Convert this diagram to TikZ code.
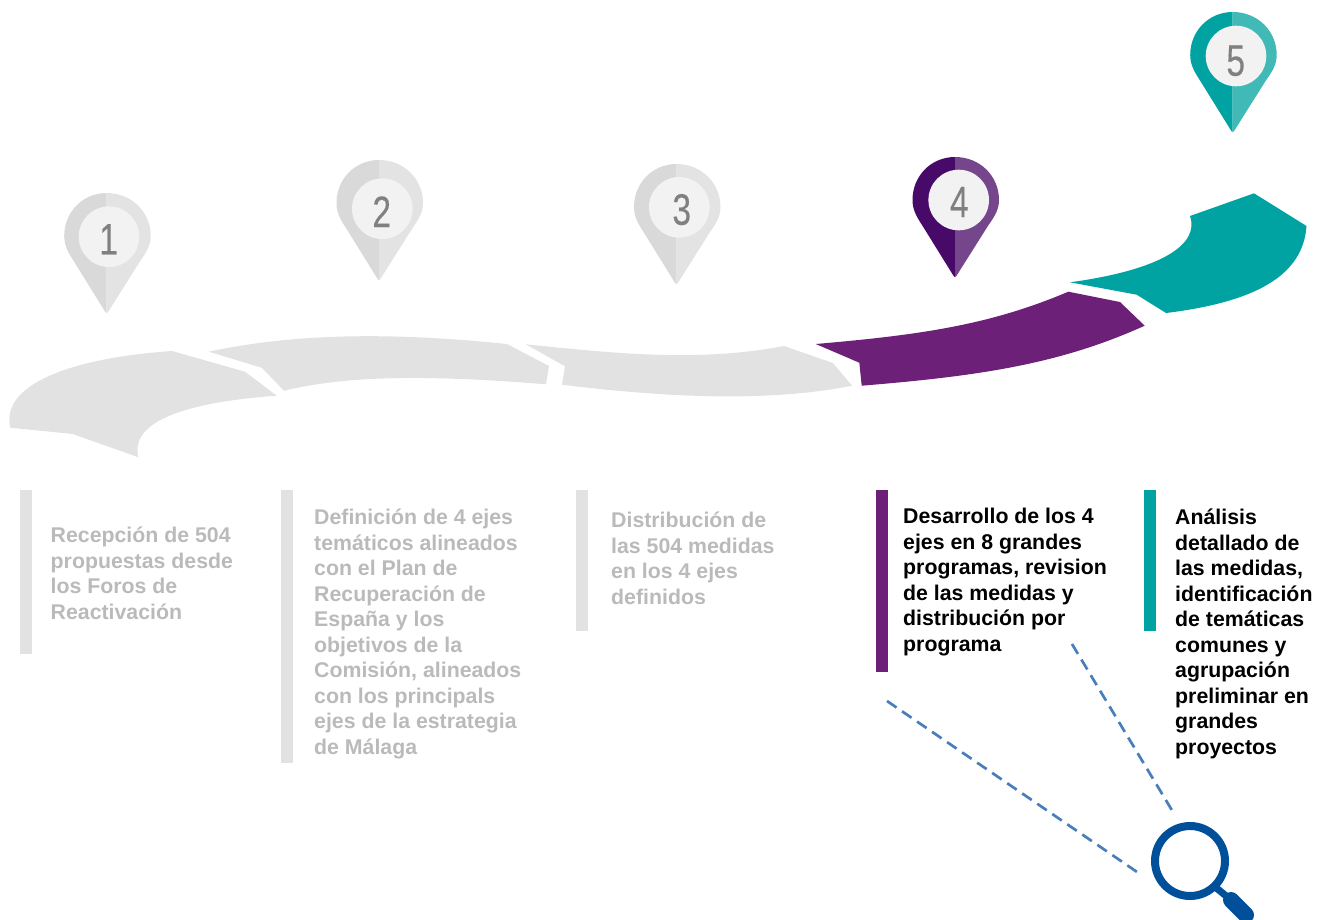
\documentclass[tikz,border=0pt]{standalone}
\usepackage{fontspec}
\setmainfont{Liberation Sans}
\newfontfamily\digfont[FakeBold=0.35]{Liberation Sans}
\definecolor{ribgrey}{HTML}{E2E2E2}
\definecolor{pingreyA}{HTML}{D9D9D9}
\definecolor{pingreyB}{HTML}{E3E3E3}
\definecolor{purpA}{HTML}{470A68}
\definecolor{purpB}{HTML}{75468C}
\definecolor{purpR}{HTML}{6D2077}
\definecolor{tealA}{HTML}{00A3A1}
\definecolor{tealB}{HTML}{40B9B7}
\definecolor{inner}{HTML}{F2F2F2}
\definecolor{digit}{HTML}{808080}
\definecolor{greytxt}{HTML}{BABABA}
\definecolor{dashblue}{HTML}{4A7EBB}
\definecolor{lensblue}{HTML}{004F9B}
\tikzset{
  lbl/.style={anchor=north west,inner sep=0pt,align=left,font=\fontsize{21.3}{25.5}\selectfont\bfseries},
  digitlbl/.style={inner sep=0pt,text=digit,xscale=.76,font=\fontsize{44}{44}\digfont},
  zoomline/.style={dashblue,line width=2.7pt,dash pattern=on 11.5pt off 6.7pt},
}
% name, split x, tip y, dark, light, digit, inner centre, digit centre
\newcommand{\pinmark}[8]{%
  \begin{scope}[shift={(#2,#3)}]
    \fill[#4] (0,0) .. controls (-.8,0) and (-1.4,-1) .. (-2,-2) -- (-33,-52) .. controls (-39,-61) and (-42.5,-68) .. (-42.5,-77)
      .. controls (-42.5,-101) and (-24,-120) .. (0,-120) -- cycle;
    \fill[#5] (0,0) .. controls (.8,0) and (1.4,-1) .. (2,-2) -- (33.5,-52) .. controls (40,-61) and (44,-68) .. (44,-77)
      .. controls (44,-101) and (25,-120) .. (0,-120) -- cycle;
  \end{scope}
  \fill[inner] (#7) circle (30.3);
  \node[digitlbl] (#1) at (#8) {#6};}
\begin{document}
\begin{tikzpicture}[x=1pt,y=-1pt]
\useasboundingbox (0,0) rectangle (1324,919);
% ribbon
\fill[ribgrey] (10.3,427.7) -- (72.7,434) -- (138.5,457.3)
  .. controls (130,425) and (175,403) .. (276.7,395.7)
  -- (245,371.7) -- (172,351)
  .. controls (70,358) and (0,385) .. (10.3,427.7) -- cycle;
\fill[ribgrey] (208.7,351.7) .. controls (300,332) and (400,333) .. (507,344)
  -- (549,366) -- (546,384.3)
  .. controls (430,375) and (350,375) .. (284,390.7)
  -- (261.7,367.7) -- cycle;
\fill[ribgrey] (526,344.3) -- (565,366.3) -- (562,384.7)
  .. controls (670,398) and (770,402) .. (852,385.7)
  -- (833,363) -- (784,346)
  .. controls (700,362) and (620,354) .. (526,344.3) -- cycle;
\fill[purpR] (815.7,344) -- (859.3,362.7) -- (861.7,385.7)
  .. controls (980,376) and (1060,364) .. (1144.7,325.7)
  -- (1120,302) -- (1068.3,291.7)
  .. controls (990,325) and (920,335) .. (815.7,344) -- cycle;
\fill[tealA] (1070,282.3) -- (1136.7,294.7) -- (1166,313)
  .. controls (1255,302) and (1303,276) .. (1306.5,226)
  -- (1254,193.3) -- (1190,216)
  .. controls (1200,245) and (1160,270) .. (1070,282.3) -- cycle;
% pins
\pinmark{d1}{106.7}{313}{pingreyA}{pingreyB}{1}{109,236.7}{108.6,239.3}
\pinmark{d2}{379}{280}{pingreyA}{pingreyB}{2}{382.3,208.7}{381.7,211.7}
\pinmark{d3}{676.5}{284}{pingreyA}{pingreyB}{3}{679.3,207.3}{681.7,209.6}
\pinmark{d4}{955}{277}{purpA}{purpB}{4}{958.7,200}{959.3,202}
\pinmark{d5}{1232.7}{132}{tealA}{tealB}{5}{1236,56}{1235.7,60.8}
% bars
\fill[ribgrey] (20,490) rectangle (32,654);
\fill[ribgrey] (281,490) rectangle (293,763);
\fill[ribgrey] (576,490) rectangle (588,631);
\fill[purpR] (876,490) rectangle (888,672);
\fill[tealA] (1144,490) rectangle (1156,631);
% text
\node[lbl,text=greytxt] (t1) at (50.5,527) {Recepción de 504\\propuestas desde\\los Foros de\\Reactivación};
\node[lbl,text=greytxt] (t2) at (314,509) {Definición de 4 ejes\\temáticos alineados\\con el Plan de\\Recuperación de\\España y los\\objetivos de la\\Comisión, alineados\\con los principals\\ejes de la estrategia\\de Málaga};
\node[lbl,text=greytxt] (t3) at (611,512) {Distribución de\\las 504 medidas\\en los 4 ejes\\definidos};
\node[lbl,text=black] (t4) at (903,508) {Desarrollo de los 4\\ejes en 8 grandes\\programas, revision\\de las medidas y\\distribución por\\programa};
\node[lbl,text=black] (t5) at (1175,509) {Análisis\\detallado de\\las medidas,\\identificación\\de temáticas\\comunes y\\agrupación\\preliminar en\\grandes\\proyectos};
% magnifier
\node[circle,draw=lensblue,line width=8pt,minimum size=70pt,inner sep=0pt] (lens) at (1190,861) {};
\coordinate (handleA) at (1214,886);
\coordinate (handleB) at (1231,900);
\coordinate (handleC) at (1246,915);
\draw[lensblue,line width=7pt] (handleA) -- (handleB);
\draw[lensblue,line width=16pt,line cap=round] (handleB) -- (handleC);
% dashed guide lines
\coordinate (za) at (887,701);
\coordinate (zb) at (1140,874);
\coordinate (zc) at (1072,644);
\coordinate (zd) at (1173,812);
\draw[zoomline] (za) -- (zb);
\draw[zoomline] (zc) -- (zd);
\end{tikzpicture}
\end{document}
